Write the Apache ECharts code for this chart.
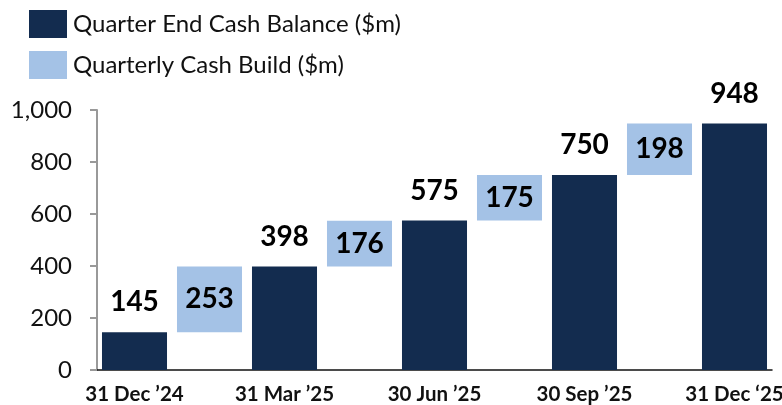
<!DOCTYPE html>
<html><head><meta charset="utf-8">
<script src="https://cdn.jsdelivr.net/npm/echarts@6/dist/echarts.min.js"></script>
<style>html,body{margin:0;padding:0;background:#fff}#c{width:782px;height:405px}</style>
</head><body><div id="c"></div>
<script>
const quarterLabels = ['31 Dec \u201924', '31 Mar \u201925', '30 Jun \u201925', '30 Sep \u201925', '31 Dec \u201825'];
const balances = [145, 398, 575, 750, 948];
const builds = [253, 176, 175, 198];
const yTicks = [0, 200, 400, 600, 800, 1000];
const nameBalance = 'Quarter End Cash Balance ($m)';
const nameBuild = 'Quarterly Cash Build ($m)';

const cats = [], darkData = [], baseData = [], buildData = [];
balances.forEach((v, i) => {
  cats.push(quarterLabels[i]); darkData.push(v); baseData.push('-'); buildData.push('-');
  if (i < builds.length) {
    cats.push(''); darkData.push('-'); baseData.push(v); buildData.push(builds[i]);
  }
});

const FONT = 'Lato';
const chart = echarts.init(document.getElementById('c'));
chart.setOption({
  animation: false,
  textStyle: { fontFamily: FONT },
  legend: {
    orient: 'vertical', left: 24, top: 5, itemWidth: 38, itemHeight: 28, itemGap: 13,
    icon: 'rect', data: [nameBalance, nameBuild],
    textStyle: { fontSize: 24, color: '#111', fontFamily: FONT, padding: [0, 0, 0, 1] }
  },
  grid: { left: 97, right: 10, top: 110, bottom: 35, outerBoundsMode: 'none', containLabel: false },
  xAxis: {
    type: 'category', data: cats,
    axisLine: { lineStyle: { color: '#111', width: 1.5 } },
    axisTick: { show: false },
    axisLabel: { interval: 0, fontSize: 20.5, fontWeight: 'bold', color: '#111', margin: 14, fontFamily: FONT }
  },
  yAxis: {
    type: 'value', min: yTicks[0], max: yTicks[yTicks.length - 1], interval: 200,
    splitLine: { show: false },
    axisLine: { show: true, lineStyle: { color: '#999', width: 2 } },
    axisTick: { show: true, length: 7, lineStyle: { color: '#999', width: 2 } },
    axisLabel: { fontSize: 24, color: '#111', margin: 25, fontFamily: FONT,
      formatter: v => v.toLocaleString('en-US') }
  },
  series: [
    { name: nameBalance, type: 'bar', data: darkData, barCategoryGap: '13.3%', barGap: '-100%',
      itemStyle: { color: '#132C4F' },
      label: { show: true, position: 'top', distance: 16, fontSize: 28, fontWeight: 'bold', color: '#000', fontFamily: FONT } },
    { name: 'base', type: 'bar', stack: 'w', data: baseData, barCategoryGap: '13.3%',
      itemStyle: { color: 'rgba(0,0,0,0)' }, silent: true },
    { name: nameBuild, type: 'bar', stack: 'w', data: buildData, barCategoryGap: '13.3%',
      itemStyle: { color: '#A4C2E6' },
      label: { show: true, position: 'inside', fontSize: 28, fontWeight: 'bold', color: '#000', fontFamily: FONT } }
  ]
});
</script></body></html>
